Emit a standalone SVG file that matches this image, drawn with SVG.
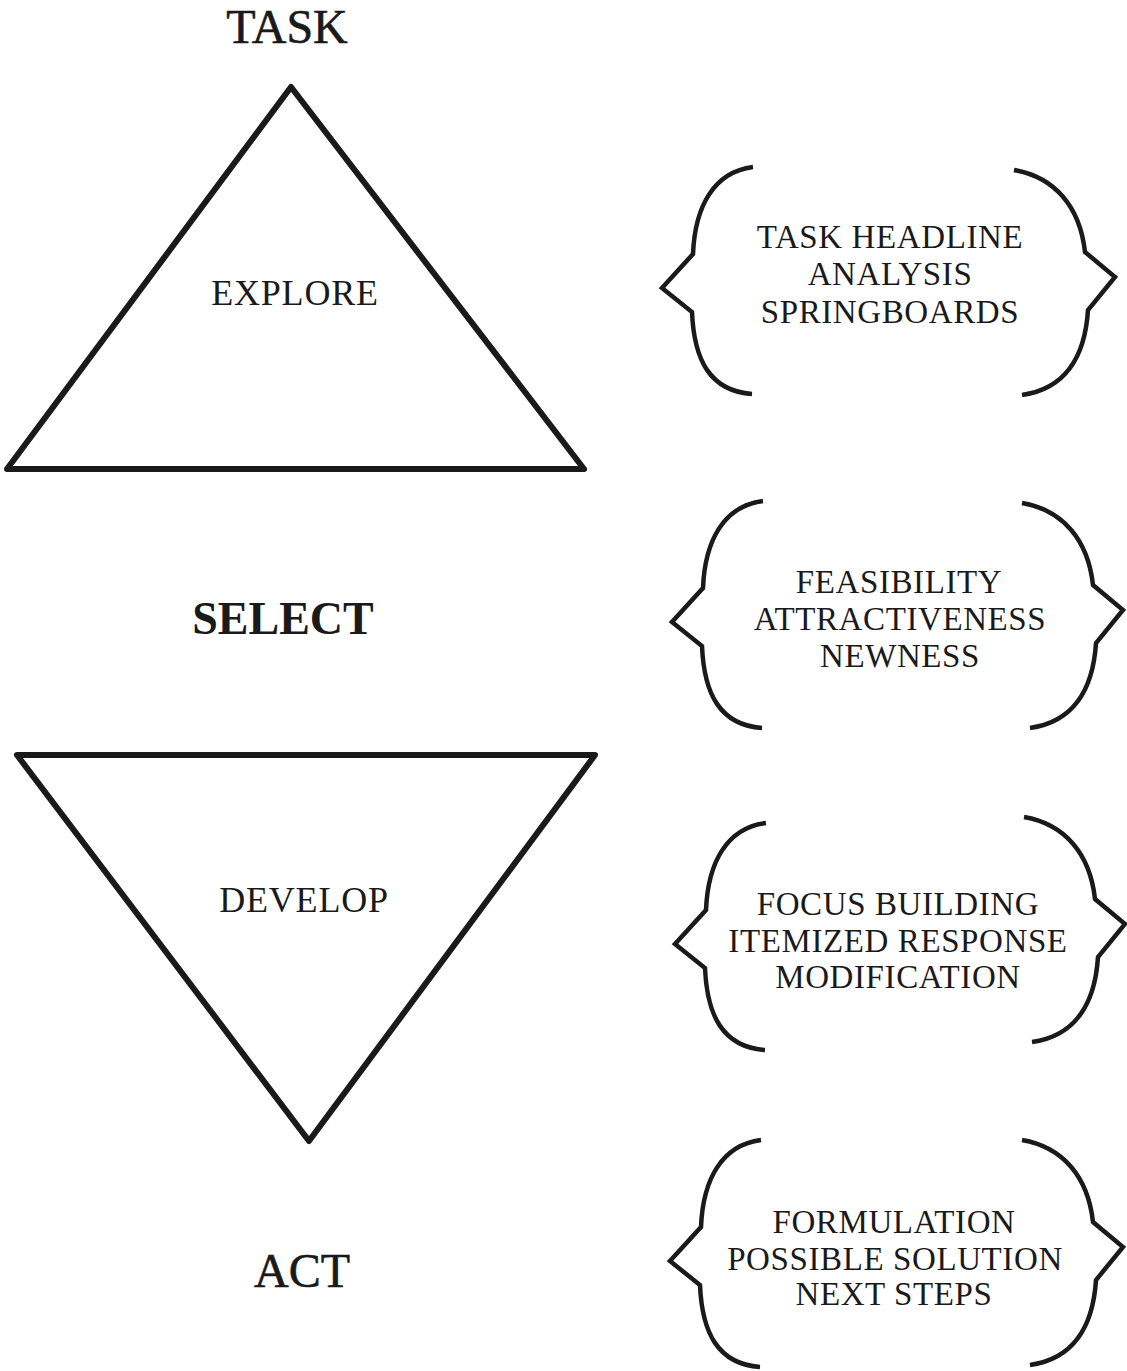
<svg xmlns="http://www.w3.org/2000/svg" width="1127" height="1371" viewBox="0 0 1127 1371">
<style>
.t{font-family:"Liberation Serif","Times New Roman",serif;fill:#1a1a1a;text-anchor:middle}
.big{font-size:48px;stroke:#1a1a1a;stroke-width:0.6}
.sel{font-size:46px;font-weight:bold}
.mid{font-size:36px;letter-spacing:0.8px}
.sm{font-size:33px;letter-spacing:0.6px}
.tri{fill:none;stroke:#1a1a1a;stroke-width:6;stroke-linejoin:round;stroke-linecap:round}
.br{fill:none;stroke:#1a1a1a;stroke-width:4.5;stroke-linejoin:miter;stroke-linecap:butt}
</style>
<defs>
<path id="lb" class="br" d="M91,-121 C52,-116 33,-82 31,-34 L0,0 L30,24 C32,72 48,103 90,106"/>
<path id="rb" class="br" d="M-101,-107 C-60,-100 -35,-70 -30,-25 L0,0 L-27,33 C-30,80 -50,112 -93,118"/>
</defs>
<rect width="1127" height="1371" fill="#fff"/>

<g id="task"><text class="t big" x="287" y="43">TASK</text></g>

<g id="explore">
<polygon class="tri" points="291,87 584,469 7,469"/>
<text class="t mid" x="295" y="305">EXPLORE</text>
</g>

<g id="select"><text class="t sel" x="283" y="634">SELECT</text></g>

<g id="develop">
<polygon class="tri" points="17,755 595,755 309,1141"/>
<text class="t mid" x="304" y="912">DEVELOP</text>
</g>

<g id="act"><text class="t big" x="302" y="1287">ACT</text></g>

<g id="explore-criteria">
<use href="#lb" x="662" y="288"/>
<use href="#rb" x="1115" y="277"/>
<text class="t sm" x="890" y="248">TASK HEADLINE</text>
<text class="t sm" x="890" y="285">ANALYSIS</text>
<text class="t sm" x="890" y="323">SPRINGBOARDS</text>
</g>

<g id="select-criteria">
<use href="#lb" x="672" y="622"/>
<use href="#rb" x="1123" y="610"/>
<text class="t sm" x="899" y="593">FEASIBILITY</text>
<text class="t sm" x="900" y="630">ATTRACTIVENESS</text>
<text class="t sm" x="900" y="667">NEWNESS</text>
</g>

<g id="develop-criteria">
<use href="#lb" x="675" y="944"/>
<use href="#rb" x="1125" y="924"/>
<text class="t sm" x="898" y="915">FOCUS BUILDING</text>
<text class="t sm" x="898" y="952">ITEMIZED RESPONSE</text>
<text class="t sm" x="898" y="988">MODIFICATION</text>
</g>

<g id="act-criteria">
<use href="#lb" x="670" y="1261"/>
<use href="#rb" x="1123" y="1247"/>
<text class="t sm" x="894" y="1233">FORMULATION</text>
<text class="t sm" x="895" y="1270">POSSIBLE SOLUTION</text>
<text class="t sm" x="894" y="1305">NEXT STEPS</text>
</g>

<g id="connectors"></g>
</svg>
